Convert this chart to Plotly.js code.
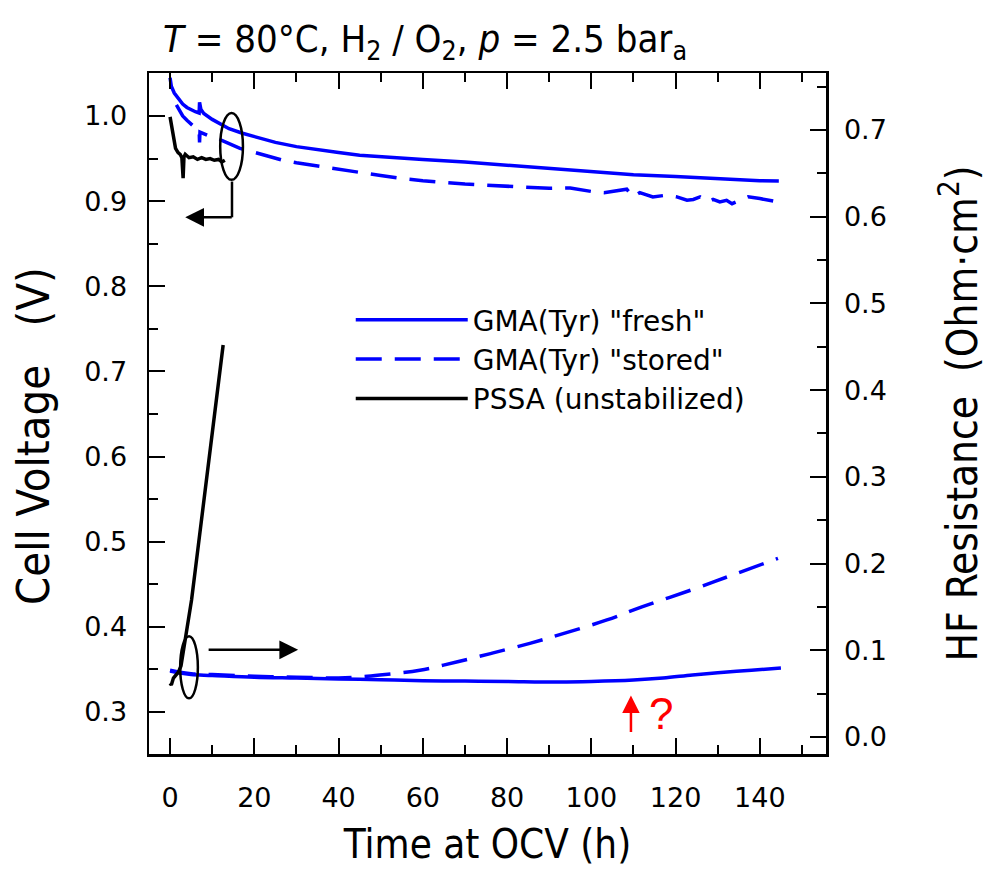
<!DOCTYPE html>
<html>
<head>
<meta charset="utf-8">
<script src="https://cdn.plot.ly/plotly-3.0.1.min.js"></script>
<style>html,body{margin:0;padding:0;background:#fff;}#chart{width:987px;height:871px;}</style>
</head>
<body>
<div id="chart"></div>
<script>
// ---- Data ----
// Cell voltage (left axis, V)
const freshVoltTime = [0, 0.3, 1, 2, 3, 4, 5, 6, 6.9, 7.0, 7.3, 8, 10, 12, 14, 17, 20, 25, 30, 35, 40, 45, 50, 55, 60, 70, 80, 90, 100, 110, 120, 130, 140, 144.5];
const freshVolt = [1.045, 1.035, 1.027, 1.02, 1.014, 1.010, 1.007, 1.005, 1.0035, 1.016, 1.008, 1.003, 0.996, 0.990, 0.985, 0.980, 0.976, 0.969, 0.964, 0.960, 0.957, 0.954, 0.952, 0.950, 0.949, 0.946, 0.942, 0.938, 0.934, 0.931, 0.929, 0.926, 0.924, 0.9236];

const storedVoltTime = [1.5, 2, 3, 4, 5, 6, 6.9, 7.0, 7.1, 9, 12, 16.6, 20, 26.8, 30, 35, 40, 45, 50, 54.6, 60, 70, 80, 90, 95, 100.4, 103, 105.5, 108.4, 109.9, 111.5, 114.6, 117.9, 120.3, 122.7, 124.2, 125.8, 127.7, 128.9, 130.5, 132.1, 133.4, 135.3, 137.2, 140, 144.3];
const storedVolt = [1.013, 1.008, 1.0, 0.995, 0.990, 0.986, 0.984, 0.969, 0.981, 0.977, 0.972, 0.962, 0.957, 0.948, 0.945, 0.941, 0.937, 0.933, 0.930, 0.927, 0.924, 0.920, 0.917, 0.915, 0.9155, 0.911, 0.910, 0.912, 0.914, 0.905, 0.910, 0.905, 0.907, 0.905, 0.901, 0.902, 0.905, 0.899, 0.902, 0.899, 0.901, 0.897, 0.901, 0.905, 0.903, 0.899];

const pssaVoltTime = [0, 0.3, 0.8, 1.3, 1.9, 2.4, 2.8, 3.1, 3.3, 3.6, 4.5, 5.5, 6.5, 7.5, 8.5, 9.5, 10.5, 11.5, 12.3, 13];
const pssaVolt = [0.999, 0.990, 0.972, 0.962, 0.957, 0.955, 0.951, 0.927, 0.952, 0.955, 0.951, 0.952, 0.949, 0.951, 0.949, 0.950, 0.948, 0.949, 0.946, 0.948];

// HF resistance (right axis, Ohm·cm²)
const freshHfrTime = [0, 2, 5, 10, 20, 30, 40, 50, 60, 70, 80, 92.5, 100, 110, 117, 124, 130, 138, 145];
const freshHfr = [0.076, 0.074, 0.072, 0.071, 0.069, 0.068, 0.067, 0.066, 0.065, 0.0645, 0.064, 0.0634, 0.064, 0.0657, 0.068, 0.0715, 0.074, 0.077, 0.0796];

const storedHfrTime = [0, 2, 5, 10, 20, 30, 40, 44.4, 49.8, 59.3, 68, 76.7, 85.4, 92.5, 103.7, 112, 124, 133.6, 144.3];
const storedHfr = [0.077, 0.075, 0.073, 0.072, 0.070, 0.069, 0.068, 0.069, 0.0715, 0.077, 0.0865, 0.097, 0.108, 0.118, 0.135, 0.150, 0.170, 0.187, 0.206];

const pssaHfrTime = [0, 0.3, 0.8, 1.3, 2.0, 2.6, 3.2, 4.0, 5.1, 6, 8, 10, 12.6];
const pssaHfr = [0.062, 0.060, 0.068, 0.071, 0.075, 0.082, 0.100, 0.124, 0.158, 0.193, 0.270, 0.350, 0.452];

const seriesNames = ['GMA(Tyr) "fresh"', 'GMA(Tyr) "stored"', 'PSSA (unstabilized)'];
const xTicks = [0, 20, 40, 60, 80, 100, 120, 140];

// ---- Styling ----
const BLUE = '#0000ff';
const NARROW = '"Liberation Sans Narrow", "Arial Narrow", "DejaVu Sans Condensed", "Liberation Sans", Arial, sans-serif';
const WIDE = '"DejaVu Sans", "Liberation Sans", Arial, sans-serif';
const DASH = '26px,13px';

const traces = [
  {x: freshVoltTime, y: freshVolt, name: seriesNames[0], legendgroup: 'a', mode: 'lines', line: {color: BLUE, width: 3.5}, yaxis: 'y'},
  {x: storedVoltTime, y: storedVolt, name: seriesNames[1], legendgroup: 'b', mode: 'lines', line: {color: BLUE, width: 3.5, dash: DASH}, yaxis: 'y'},
  {x: pssaVoltTime, y: pssaVolt, name: seriesNames[2], legendgroup: 'c', mode: 'lines', line: {color: '#000', width: 3.5}, yaxis: 'y'},
  {x: freshHfrTime, y: freshHfr, name: seriesNames[0], legendgroup: 'a', showlegend: false, mode: 'lines', line: {color: BLUE, width: 3.5, shape: 'spline'}, yaxis: 'y2'},
  {x: storedHfrTime, y: storedHfr, name: seriesNames[1], legendgroup: 'b', showlegend: false, mode: 'lines', line: {color: BLUE, width: 3.5, dash: DASH, shape: 'spline'}, yaxis: 'y2'},
  {x: pssaHfrTime, y: pssaHfr, name: seriesNames[2], legendgroup: 'c', showlegend: false, mode: 'lines', line: {color: '#000', width: 3.5}, yaxis: 'y2'}
];

const axisCommon = {
  showgrid: false, zeroline: false, showline: true, linecolor: '#000', linewidth: 2.5,
  ticks: 'inside', ticklen: 16, tickwidth: 2, tickcolor: '#000',
  tickfont: {family: WIDE, size: 27, color: '#000'}
};

const layout = {
  width: 987, height: 871,
  paper_bgcolor: '#fff', plot_bgcolor: '#fff',
  margin: {l: 149, r: 161, t: 73, b: 117},
  showlegend: true,
  title: {
    text: '<i>T</i> = 80°C, H<sub>2</sub> / O<sub>2</sub>, <i>p</i> = 2.5 bar<sub>a</sub>',
    font: {family: NARROW, size: 38, color: '#000'},
    x: 163 / 987, xanchor: 'left', xref: 'container',
    y: 1 - 39 / 871, yanchor: 'middle', yref: 'container'
  },
  xaxis: Object.assign({}, axisCommon, {
    range: [-5, 155.7], tickvals: xTicks, mirror: 'ticks',
    ticklabelstandoff: 18,
    minor: {dtick: 10, ticks: 'inside', ticklen: 9, tickwidth: 2, tickcolor: '#000', tick0: 0},
    title: {text: 'Time at OCV (h)', font: {family: NARROW, size: 40, color: '#000'}, standoff: 18}
  }),
  yaxis: Object.assign({}, axisCommon, {
    range: [0.2506, 1.0505], dtick: 0.1, tick0: 0, tickformat: '.1f',
    ticklabelstandoff: 14,
    minor: {dtick: 0.05, ticks: 'inside', ticklen: 9, tickwidth: 2, tickcolor: '#000', tick0: 0}
  }),
  yaxis2: Object.assign({}, axisCommon, {
    overlaying: 'y', side: 'right',
    range: [-0.0196, 0.7657], dtick: 0.1, tick0: 0, tickformat: '.1f',
    ticklabelstandoff: 10,
    minor: {dtick: 0.05, ticks: 'inside', ticklen: 9, tickwidth: 2, tickcolor: '#000', tick0: 0},
    title: {text: 'HF Resistance  (Ohm·cm<sup>2</sup>)', font: {family: NARROW, size: 42, color: '#000'}, standoff: 62}
  }),
  legend: {
    x: 0.298, xanchor: 'left', y: 0.674, yanchor: 'top',
    bgcolor: 'rgba(0,0,0,0)', borderwidth: 0,
    font: {family: WIDE, size: 28, color: '#000'},
    itemwidth: 112, tracegroupgap: 0
  },
  shapes: [
    // ellipse marking the voltage curves
    {type: 'circle', xref: 'x', yref: 'y', x0: 11.9, x1: 17.3, y0: 0.925, y1: 1.0035, line: {color: '#000', width: 2.5}},
    // bracket leading to left-pointing arrow
    {type: 'line', xref: 'x', yref: 'y', x0: 14.7, x1: 14.7, y0: 0.923, y1: 0.881, line: {color: '#000', width: 2.5}},
    // ellipse marking the HFR curves
    {type: 'circle', xref: 'x', yref: 'y', x0: 2.4, x1: 6.6, y0: 0.316, y1: 0.389, line: {color: '#000', width: 2.5}}
  ],
  annotations: [
    // left axis title (placed as in the reference, slightly below the axis centre)
    {xref: 'paper', yref: 'paper', x: (33 - 149) / 677, y: 1 - (436 - 73) / 681, xanchor: 'center', yanchor: 'middle',
     textangle: -90, showarrow: false, text: 'Cell Voltage   (V)',
     font: {family: NARROW, size: 45, color: '#000'}},
    {xref: 'x', yref: 'y', x: 3.6, y: 0.881, ax: 48, ay: 0,
     showarrow: true, arrowhead: 2, arrowsize: 1.5, arrowwidth: 2.5, arrowcolor: '#000', text: '', font: {size: 1}},
    {xref: 'x', yref: 'y', x: 30.4, y: 0.373, ax: -91, ay: 0,
     showarrow: true, arrowhead: 2, arrowsize: 1.5, arrowwidth: 2.5, arrowcolor: '#000', text: '', font: {size: 1}},
    {xref: 'x', yref: 'y2', x: 109.4, y: 0.048, ax: 0, ay: 38,
     showarrow: true, arrowhead: 2, arrowsize: 1.4, arrowwidth: 2.5, arrowcolor: '#ff0000', text: '', font: {size: 1}},
    {xref: 'x', yref: 'y2', x: 116.5, y: 0.027, showarrow: false, text: '?',
     font: {family: '"Liberation Sans", Arial, sans-serif', size: 44, color: '#ff0000'}}
  ]
};

Plotly.newPlot('chart', traces, layout, {displayModeBar: false, staticPlot: true});
</script>
</body>
</html>
